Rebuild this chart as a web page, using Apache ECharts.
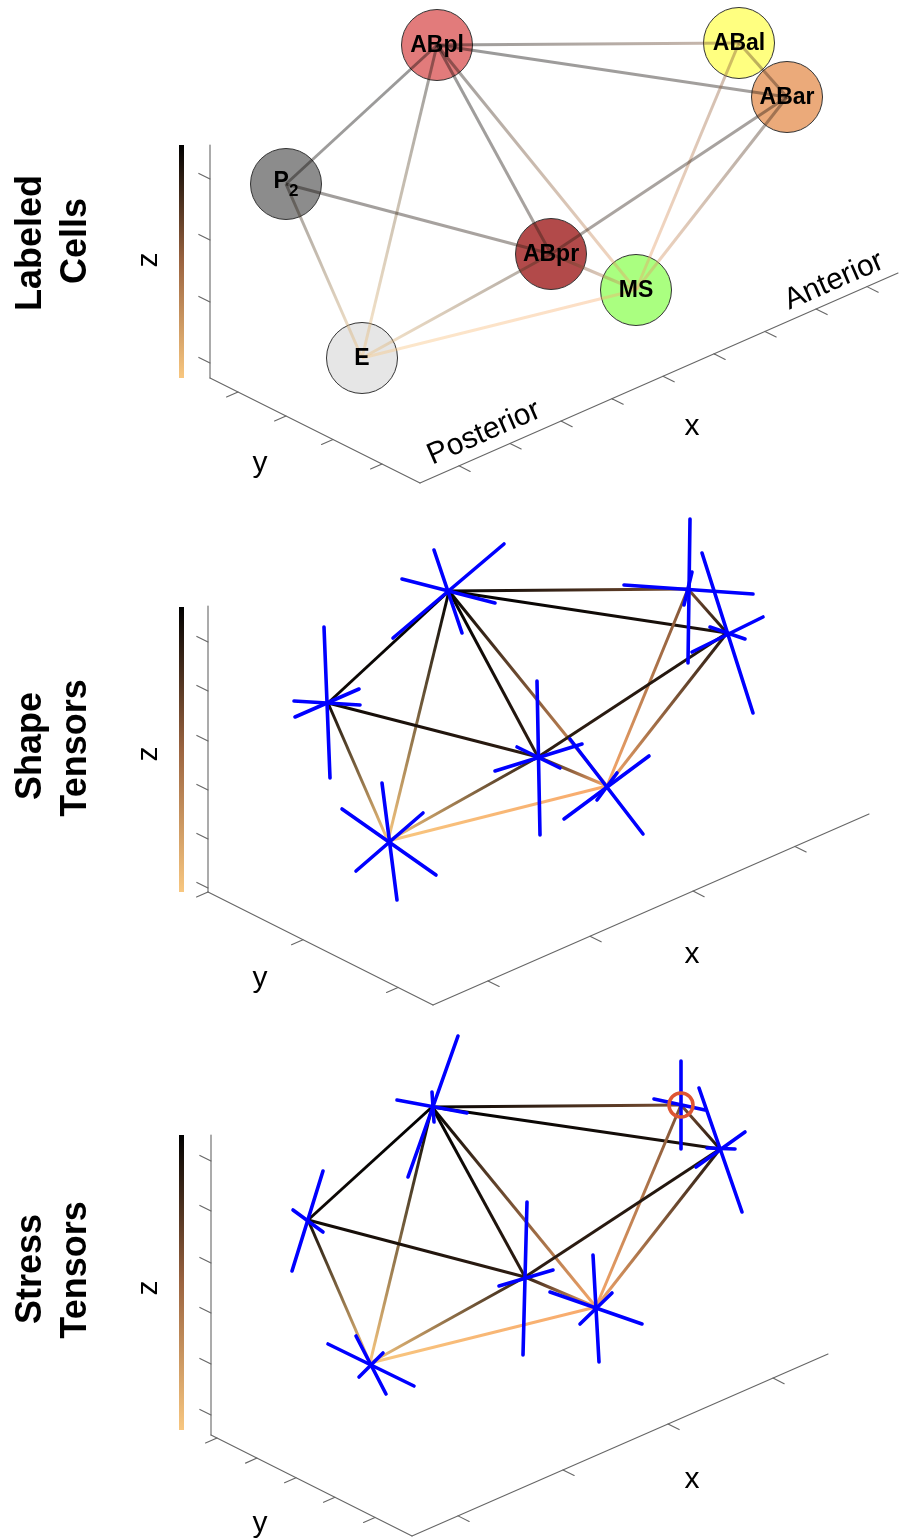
<!DOCTYPE html>
<html><head><meta charset="utf-8">
<script src="https://cdn.jsdelivr.net/npm/echarts@6/dist/echarts.min.js"></script>
<style>html,body{margin:0;padding:0;background:#fff}#c{width:900px;height:1540px}</style>
</head><body><div id="c"></div>
<script>
// ---------- data ----------
const cells = ['ABpl','ABal','ABar','P2','ABpr','MS','E'];
// normalised height (z) of every cell -> edge colour (copper map, dark = high)
const cellZ = [1.0, 0.6, 0.9, 0.95, 0.85, 0.15, 0.0];
const edges = [[0,1],[0,2],[0,3],[0,6],[0,4],[0,5],[1,2],[1,5],[2,4],[2,5],[3,4],[3,6],[4,5],[4,6],[5,6]];

// projected cell centres for the three views
const posCells  = [[437,45],[739,43],[787,97],[286,184],[551,254],[636,290],[362,358]];
const posShape  = [[449,591],[688,589],[727,633],[328,703],[538,757],[607,786],[388,841]];
const posStress = [[432,1107],[681,1105],[720,1149],[308,1220],[525,1277],[596,1307],[370,1363]];

// projected principal axes of tensors (segment end points), per cell
const shapeTensors = [
  [[402,579,495,603],[434,550,462,633],[504,544,393,638]],
  [[624,585,753,594],[690,519,688,663],[692,572,684,605]],
  [[702,553,753,713],[763,617,692,652],[710,627,745,639]],
  [[324,627,330,778],[294,701,360,705],[295,717,359,689]],
  [[537,681,540,835],[495,771,582,744],[517,747,560,768]],
  [[564,819,649,756],[570,739,643,834],[617,773,597,800]],
  [[382,783,397,900],[342,809,436,875],[423,813,356,871]]
];
const stressTensors = [
  [[458,1036,408,1177],[397,1100,467,1113],[432,1092,434,1122]],
  [[681,1061,681,1149],[654,1099,705,1110]],
  [[699,1088,742,1212],[745,1132,696,1167],[707,1148,735,1149]],
  [[323,1171,292,1271],[293,1210,323,1232]],
  [[527,1202,523,1355],[499,1286,553,1270]],
  [[593,1255,599,1362],[550,1292,642,1324],[580,1324,612,1293]],
  [[328,1344,414,1386],[356,1336,386,1394],[359,1377,383,1353]]
];
const stressMarked = [1]; // ABal highlighted

// 3-D axis frames (projected) and tick positions
const frames = [
  {zx:210, zTop:145, zBottom:378, corner:[420,483], xEnd:[898,273],
   zTicks:[179,240,302,363], yTicks:[238,286,333,382], xTicks:[459,510,561,612,663,714,765,816,867]},
  {zx:208, zTop:606, zBottom:892, corner:[433,1005], xEnd:[869,814],
   zTicks:[642,691,741,790,839,888], yTicks:[208,303,398], xTicks:[488,590,693,795]},
  {zx:211, zTop:1135, zBottom:1435, corner:[412,1536], xEnd:[828,1354],
   zTicks:[1161,1211,1263,1313,1364,1415], yTicks:[217,257,296,335,375], xTicks:[458,563,668,773]}
];
const colorbars = [[181.5,145,378],[181.5,607,892],[181.5,1135,1430]];
const panelTitles = [['Labeled','Cells'],['Shape','Tensors'],['Stress','Tensors']];
const titleY = [[243,241],[746,748],[1269,1270]];
const axisLabelPos = {z:[[149,260],[149,754],[149,1288]], y:[[260,464],[260,979],[260,1524]], x:[[692,427],[692,955],[692,1480]]};

// ---------- styles ----------
const cellColors = {ABpl:'#e27b7b', ABal:'#ffff80', ABar:'#ebaa7a', P2:'#8c8c8c', ABpr:'#b24a4a', MS:'#aaff80', E:'#e6e6e6'};
const FONT = '"Liberation Sans", Arial, Helvetica, sans-serif';

function copper(t){
  const s = 1 - t;
  return 'rgb(' + Math.round(248*Math.min(1,1.25*s)) + ',' + Math.round(255*0.7812*s) + ',' + Math.round(255*0.5*s) + ')';
}
function unit(dx,dy){const l=Math.hypot(dx,dy);return [dx/l,dy/l];}
function frameSegments(f){
  const segs=[]; const [cx,cy]=f.corner, [ex,ey]=f.xEnd;
  segs.push([f.zx,f.zTop,f.zx,f.zBottom],[f.zx,f.zBottom,cx,cy],[cx,cy,ex,ey]);
  const yd=unit(cx-f.zx,cy-f.zBottom), xd=unit(ex-cx,ey-cy), L=12.5;
  f.zTicks.forEach(y=>segs.push([f.zx,y,f.zx-yd[0]*L,y-yd[1]*L]));
  f.yTicks.forEach(x=>{const y=f.zBottom+(x-f.zx)*(cy-f.zBottom)/(cx-f.zx);segs.push([x,y,x-xd[0]*L,y-xd[1]*L]);});
  f.xTicks.forEach(x=>{const y=cy+(x-cx)*(ey-cy)/(ex-cx);segs.push([x,y,x+yd[0]*L,y+yd[1]*L]);});
  return segs;
}
function edgeData(pos){return edges.map(([a,b])=>[pos[a][0],pos[a][1],pos[b][0],pos[b][1],cellZ[a],cellZ[b]]);}
function tensorData(t){const out=[];t.forEach(list=>list.forEach(s=>out.push(s)));return out;}

function lineRender(stroke,width){
  return function(params,api){
    const p1=api.coord([api.value(0),api.value(1)]), p2=api.coord([api.value(2),api.value(3)]);
    return {type:'line',shape:{x1:p1[0],y1:p1[1],x2:p2[0],y2:p2[1]},style:{stroke:stroke,lineWidth:width,lineCap:'round'}};
  };
}
function edgeRender(opacity){
  return function(params,api){
    const p1=api.coord([api.value(0),api.value(1)]), p2=api.coord([api.value(2),api.value(3)]);
    const g=new echarts.graphic.LinearGradient(p1[0],p1[1],p2[0]+0.01,p2[1]+0.01,
      [{offset:0,color:copper(api.value(4))},{offset:1,color:copper(api.value(5))}],true);
    return {type:'line',shape:{x1:p1[0],y1:p1[1],x2:p2[0],y2:p2[1]},style:{stroke:g,lineWidth:3,lineCap:'butt',opacity:opacity}};
  };
}
function colorbarRender(params,api){
  const p1=api.coord([api.value(0),api.value(1)]), p2=api.coord([api.value(0),api.value(2)]);
  const g=new echarts.graphic.LinearGradient(0,0,0,1,[{offset:0,color:copper(1)},{offset:0.5,color:copper(0.5)},{offset:1,color:copper(0)}]);
  return {type:'rect',shape:{x:p1[0]-2.5,y:p1[1],width:5,height:p2[1]-p1[1]},style:{fill:g}};
}
function labelRender(params,api){
  const p=api.coord([api.value(0),api.value(1)]);
  const name=cells[params.dataIndex];
  const txt = name==='P2' ? '{p|P}{s|2}' : '{b|'+name+'}';
  return {type:'text',x:p[0],y:p[1]+1,style:{text:txt,align:'center',verticalAlign:'middle',
    rich:{b:{fontSize:23,fontWeight:'bold',fontFamily:FONT,fill:'#000',color:'#000'},
          p:{fontSize:23,fontWeight:'bold',fontFamily:FONT,fill:'#000',color:'#000',verticalAlign:'top',lineHeight:29},
          s:{fontSize:17,fontWeight:'bold',fontFamily:FONT,fill:'#000',color:'#000',verticalAlign:'bottom',lineHeight:29}}}};
}

const series=[];
const base={type:'custom',coordinateSystem:'cartesian2d',silent:true,clip:false,animation:false,encode:{x:0,y:1}};
frames.forEach(f=>series.push(Object.assign({},base,{renderItem:lineRender('#666',1.1),data:frameSegments(f),z:1})));
series.push(Object.assign({},base,{renderItem:colorbarRender,data:colorbars,z:1}));
// panel 1: circles, translucent edges, labels
series.push({type:'scatter',silent:true,animation:false,z:2,symbol:'circle',symbolSize:71,
  data:posCells.map((p,i)=>({value:p,itemStyle:{color:cellColors[cells[i]],borderColor:'#333',borderWidth:1,opacity:1}}))});
series.push(Object.assign({},base,{renderItem:edgeRender(0.4),data:edgeData(posCells),z:3}));
series.push(Object.assign({},base,{renderItem:labelRender,data:posCells,z:4}));
// panel 2 & 3: edges and tensors
series.push(Object.assign({},base,{renderItem:edgeRender(1),data:edgeData(posShape),z:3}));
series.push(Object.assign({},base,{renderItem:edgeRender(1),data:edgeData(posStress),z:3}));
series.push(Object.assign({},base,{renderItem:lineRender('#0000ff',3.6),data:tensorData(shapeTensors),z:5}));
series.push(Object.assign({},base,{renderItem:lineRender('#0000ff',3.6),data:tensorData(stressTensors),z:5}));
series.push({type:'scatter',silent:true,animation:false,z:6,symbol:'circle',symbolSize:24,
  data:stressMarked.map(i=>posStress[i]),itemStyle:{color:'rgba(0,0,0,0)',borderColor:'#de5533',borderWidth:3.5,opacity:1}});

// ---------- texts ----------
const graphics=[];
function txt(x,y,text,size,weight,rot){
  graphics.push({type:'text',x:x,y:y,rotation:rot||0,silent:true,
    style:{text:text,fontSize:size,fontWeight:weight,fontFamily:FONT,fill:'#000',
      textAlign:'center',textVerticalAlign:'middle',align:'center',verticalAlign:'middle'}});
}
panelTitles.forEach((t,i)=>{txt(31,titleY[i][0],t[0],36,'bold',Math.PI/2);txt(76,titleY[i][1],t[1],36,'bold',Math.PI/2);});
axisLabelPos.z.forEach(p=>txt(p[0],p[1],'z',30,'normal',Math.PI/2));
axisLabelPos.y.forEach(p=>txt(p[0],p[1],'y',30,'normal',0));
axisLabelPos.x.forEach(p=>txt(p[0],p[1],'x',30,'normal',0));
const ang=Math.atan2(frames[0].corner[1]-frames[0].xEnd[1],frames[0].xEnd[0]-frames[0].corner[0]);
txt(484,433,'Posterior',30,'normal',ang);
txt(834,281,'Anterior',30,'normal',ang);

const chart=echarts.init(document.getElementById('c'),null,{renderer:'canvas'});
chart.setOption({
  animation:false,
  backgroundColor:'#fff',
  grid:{left:0,top:0,width:900,height:1540},
  xAxis:{type:'value',min:0,max:900,show:false},
  yAxis:{type:'value',min:0,max:1540,inverse:true,show:false},
  series:series,
  graphic:{elements:graphics}
});
</script></body></html>
